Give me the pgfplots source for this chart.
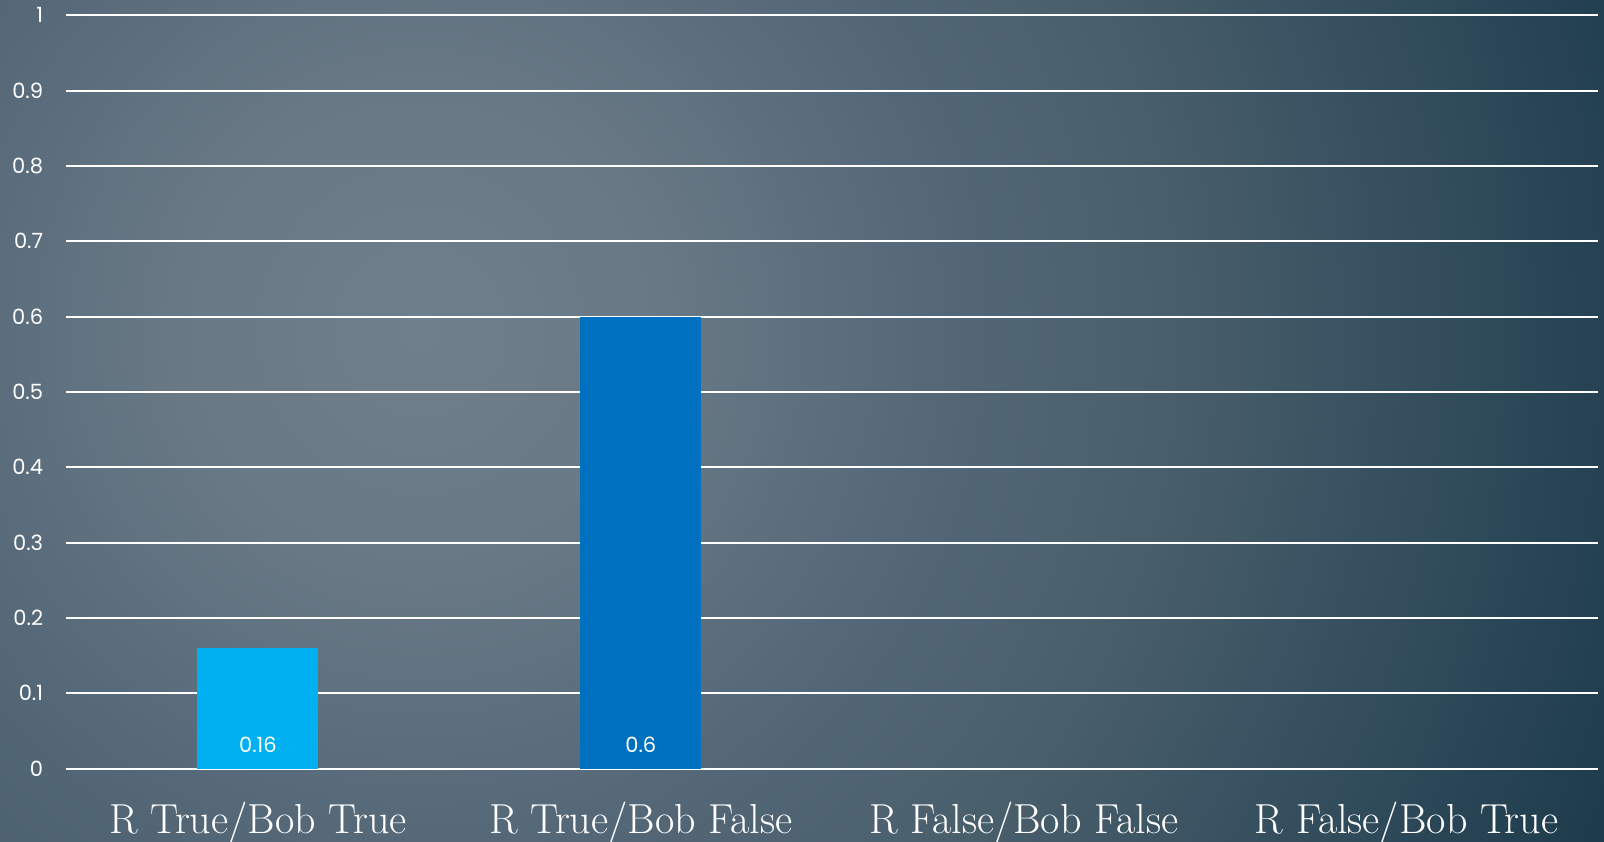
\documentclass[border=0pt]{standalone}
\usepackage{fontspec}
\newfontfamily\gothic{Poppins}
\usepackage{pgfplots}
\pgfplotsset{compat=1.18}

\definecolor{barA}{HTML}{00B0F0}
\definecolor{barB}{HTML}{0070C0}
\definecolor{bgA}{HTML}{6F7F8B}
\definecolor{bgB}{HTML}{687885}
\definecolor{bgC}{HTML}{526676}
\definecolor{bgD}{HTML}{4A5F6C}
\definecolor{bgE}{HTML}{2A4656}
\definecolor{bgF}{HTML}{1C3A4B}
% 25bp of the shading = radius of the shaded circle
\pgfdeclareradialshading{slidebg}{\pgfpoint{0bp}{0bp}}{%
  color(0bp)=(bgA); color(4.8bp)=(bgB); color(10.6bp)=(bgC);
  color(14.2bp)=(bgD); color(21.7bp)=(bgE); color(25bp)=(bgF); color(50bp)=(bgF)}

\begin{document}
\begin{tikzpicture}
% frame of the slide, 1px = 0.5bp
\path[use as bounding box] (-33.25bp,-36.5bp) rectangle (769bp,384.4bp);
\begin{scope}
  \clip (-33.25bp,-36.5bp) rectangle (769bp,384.4bp);
  \shade[shading=slidebg] (176.75bp,219.4bp) circle (650bp);
\end{scope}
\begin{axis}[
  at={(0,0)}, anchor=south west,
  scale only axis,
  width=766bp, height=376.75bp,
  ybar, bar width=60.5bp,
  xmin=-0.5, xmax=3.5,
  ymin=0, ymax=1,
  xtick={0,1,2,3},
  xticklabels={R True/Bob True, R True/Bob False, R False/Bob False, R False/Bob True},
  ytick={0,0.1,0.2,0.3,0.4,0.5,0.6,0.7,0.8,0.9,1},
  yticklabels={0,0.1,0.2,0.3,0.4,0.5,0.6,0.7,0.8,0.9,1},
  axis line style={draw=none},
  major tick style={draw=none},
  ymajorgrids,
  grid style={white, line width=1bp},
  xticklabel style={anchor=base, yshift=-28.25bp, text=white, font=\fontsize{21bp}{24bp}\selectfont},
  yticklabel style={anchor=east, inner sep=0pt, xshift=-11.5bp, text=white, font=\gothic\fontsize{10.5bp}{12bp}\selectfont},
  clip=false,
]
\addplot[fill=barA, draw=none, bar shift=0pt] coordinates {(0,0.16)};
\addplot[fill=barB, draw=none, bar shift=0pt] coordinates {(1,0.6)};
\addplot[draw=none, fill=none, bar shift=0pt,
  nodes near coords, point meta=explicit symbolic,
  every node near coord/.append style={anchor=center, yshift=12bp, text=white, inner sep=0pt,
    font=\gothic\fontsize{10.5bp}{12bp}\selectfont}]
  coordinates {(0,0)[0.16] (1,0)[0.6]};
\end{axis}
\end{tikzpicture}
\end{document}
